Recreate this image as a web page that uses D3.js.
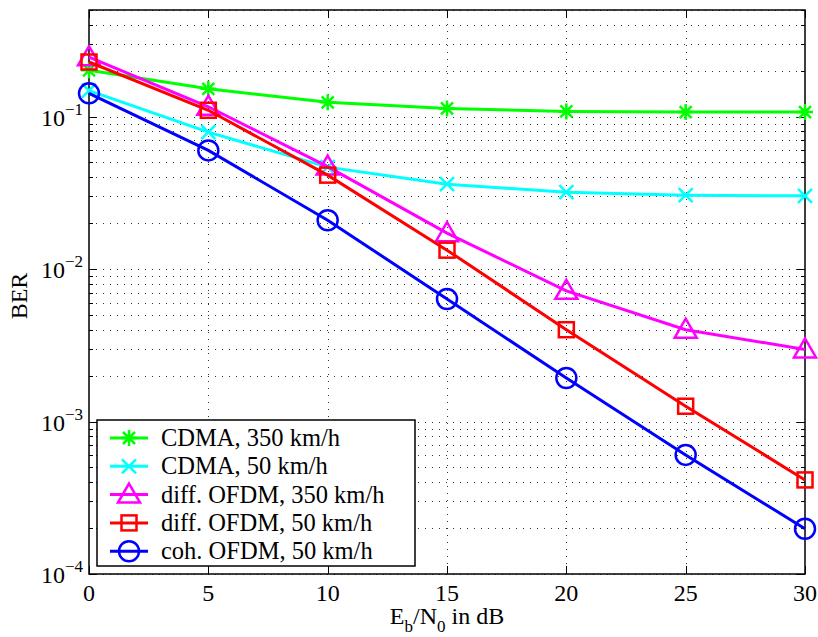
<!DOCTYPE html>
<html>
<head>
<meta charset="utf-8">
<script src="https://cdn.jsdelivr.net/npm/d3@7"></script>
<style>
  html, body { margin: 0; padding: 0; background: #fff; }
  svg text { font-family: "Liberation Serif", "DejaVu Serif", serif; }
</style>
</head>
<body>
<svg id="chart" width="818" height="637" font-family="Liberation Serif, DejaVu Serif, serif"></svg>
<script>
// Eb/N0 sample points (dB)
const snr = [0, 5, 10, 15, 20, 25, 30];

// Bit error rates per transmission scheme
const cdma350 = [0.201, 0.152, 0.124, 0.113, 0.108, 0.107, 0.107];
const cdma50 = [0.148, 0.079, 0.0466, 0.036, 0.0319, 0.0305, 0.0302];
const diffOfdm350 = [0.245, 0.116, 0.047, 0.0172, 0.0072, 0.0040, 0.00297];
const diffOfdm50 = [0.228, 0.110, 0.0413, 0.0133, 0.0040, 0.00126, 0.000414];
const cohOfdm50 = [0.142, 0.060, 0.0209, 0.00636, 0.00193, 0.000604, 0.000198];

const seriesNames = ["CDMA, 350 km/h", "CDMA, 50 km/h", "diff. OFDM, 350 km/h", "diff. OFDM, 50 km/h", "coh. OFDM, 50 km/h"];
const seriesColors = ["#00ff00", "#00ffff", "#ff00ff", "#ff0000", "#0000ff"];
const seriesMarkers = ["star", "cross", "triangle", "square", "circle"];
const seriesValues = [cdma350, cdma50, diffOfdm350, diffOfdm50, cohOfdm50];

const xTicks = [0, 5, 10, 15, 20, 25, 30];
const yDecades = [-4, -3, -2, -1];

const FONT = "Liberation Serif, DejaVu Serif, serif";
const svg = d3.select("#chart");
const plotL = 89, plotR = 805, plotT = 10, plotB = 574;

const x = d3.scaleLinear().domain([0, 30]).range([plotL, plotR]);
const y = d3.scaleLog().domain([1e-4, 0.5]).range([plotB, plotT]);

// minor/major log grid positions
const yGridVals = [];
for (let e = -4; e <= -1; e++) {
  for (let m = 1; m <= 9; m++) {
    const v = m * Math.pow(10, e);
    if (v >= 1e-4 && v <= 0.5 + 1e-12) yGridVals.push(v);
  }
}

const grid = svg.append("g").attr("stroke", "#333").attr("stroke-width", 1)
  .attr("stroke-dasharray", "1,6").attr("fill", "none");
grid.selectAll("line.h").data(yGridVals).join("line")
  .attr("x1", plotL).attr("x2", plotR)
  .attr("y1", d => Math.round(y(d)) + 0.5).attr("y2", d => Math.round(y(d)) + 0.5);
grid.selectAll("line.v").data(xTicks.slice(1, -1)).join("line")
  .attr("y1", plotT).attr("y2", plotB)
  .attr("x1", d => Math.round(x(d)) + 0.5).attr("x2", d => Math.round(x(d)) + 0.5);

// axes: ticks on all four sides, pointing inwards
const axG = svg.append("g").attr("stroke", "#000").attr("stroke-width", 1);
yGridVals.forEach(v => {
  const yy = Math.round(y(v)) + 0.5;
  const isMajor = yDecades.some(e => Math.abs(Math.log10(v) - e) < 1e-9);
  const len = isMajor ? 8 : 4;
  axG.append("line").attr("x1", plotL).attr("x2", plotL + len).attr("y1", yy).attr("y2", yy);
  axG.append("line").attr("x1", plotR).attr("x2", plotR - len).attr("y1", yy).attr("y2", yy);
});
xTicks.forEach(t => {
  const xx = Math.round(x(t)) + 0.5;
  axG.append("line").attr("x1", xx).attr("x2", xx).attr("y1", plotB).attr("y2", plotB - 8);
  axG.append("line").attr("x1", xx).attr("x2", xx).attr("y1", plotT).attr("y2", plotT + 8);
});
svg.append("rect").attr("x", plotL).attr("y", plotT).attr("width", plotR - plotL).attr("height", plotB - plotT)
  .attr("fill", "none").attr("stroke", "#000").attr("stroke-width", 1.5);

// x tick labels
svg.append("g").selectAll("text").data(xTicks).join("text")
  .attr("x", d => x(d)).attr("y", 601).attr("text-anchor", "middle")
  .attr("font-family", FONT).attr("font-size", 24).text(d => d);

// y tick labels: 10^e
const yl = svg.append("g").selectAll("text").data(yDecades).join("text")
  .attr("x", 83).attr("y", d => y(Math.pow(10, d)) + 9).attr("text-anchor", "end")
  .attr("font-family", FONT).attr("font-size", 24);
yl.append("tspan").text("10");
yl.append("tspan").attr("font-size", 17).attr("dy", -11).text(d => "\u2212" + (-d));

// axis titles
const xl = svg.append("text").attr("x", 447).attr("y", 624).attr("text-anchor", "middle")
  .attr("font-family", FONT).attr("font-size", 24);
xl.append("tspan").text("E");
xl.append("tspan").attr("font-size", 17).attr("dy", 8).text("b");
xl.append("tspan").attr("dy", -8).text("/N");
xl.append("tspan").attr("font-size", 17).attr("dy", 8).text("0");
xl.append("tspan").attr("dy", -8).text(" in dB");

svg.append("text").attr("transform", "translate(27,296) rotate(-90)")
  .attr("text-anchor", "middle").attr("font-family", FONT).attr("font-size", 24).text("BER");

// marker painter
function drawMarker(g, kind, cx, cy, color) {
  const sw = 2.5;
  if (kind === "circle") {
    g.append("circle").attr("cx", cx).attr("cy", cy).attr("r", 10)
      .attr("fill", "none").attr("stroke", color).attr("stroke-width", sw);
  } else if (kind === "square") {
    g.append("rect").attr("x", cx - 7.5).attr("y", cy - 7.5).attr("width", 15).attr("height", 15)
      .attr("fill", "none").attr("stroke", color).attr("stroke-width", sw);
  } else if (kind === "triangle") {
    g.append("path").attr("d", `M${cx},${cy - 11} L${cx + 11},${cy + 8} L${cx - 11},${cy + 8} Z`)
      .attr("fill", "none").attr("stroke", color).attr("stroke-width", sw).attr("stroke-linejoin", "miter");
  } else if (kind === "cross") {
    const r = 7;
    g.append("path").attr("d", `M${cx - r},${cy - r} L${cx + r},${cy + r} M${cx - r},${cy + r} L${cx + r},${cy - r}`)
      .attr("stroke", color).attr("stroke-width", sw);
  } else if (kind === "star") {
    const r = 8, d = 6;
    g.append("path").attr("d",
      `M${cx - r},${cy} L${cx + r},${cy} M${cx},${cy - r} L${cx},${cy + r} ` +
      `M${cx - d},${cy - d} L${cx + d},${cy + d} M${cx - d},${cy + d} L${cx + d},${cy - d}`)
      .attr("stroke", color).attr("stroke-width", sw);
  }
}

// series
const line = d3.line().x((d, i) => x(snr[i])).y(d => y(d));
seriesValues.forEach((vals, k) => {
  const g = svg.append("g");
  g.append("path").attr("d", line(vals)).attr("fill", "none")
    .attr("stroke", seriesColors[k]).attr("stroke-width", 3);
  vals.forEach((v, i) => drawMarker(g, seriesMarkers[k], x(snr[i]), y(v), seriesColors[k]));
});

// legend
const lg = svg.append("g");
const lx = 97, ly = 420, lw = 318, lh = 146;
lg.append("rect").attr("x", lx).attr("y", ly).attr("width", lw).attr("height", lh)
  .attr("fill", "#fff").attr("stroke", "#000").attr("stroke-width", 1.5);
seriesNames.forEach((name, k) => {
  const cy = 438 + k * 28.3;
  lg.append("line").attr("x1", 110).attr("x2", 148).attr("y1", cy).attr("y2", cy)
    .attr("stroke", seriesColors[k]).attr("stroke-width", 3);
  drawMarker(lg, seriesMarkers[k], 129, cy, seriesColors[k]);
  lg.append("text").attr("x", 161).attr("y", cy + 8).attr("font-family", FONT)
    .attr("font-size", 24.5).text(name);
});
</script>
</body>
</html>
